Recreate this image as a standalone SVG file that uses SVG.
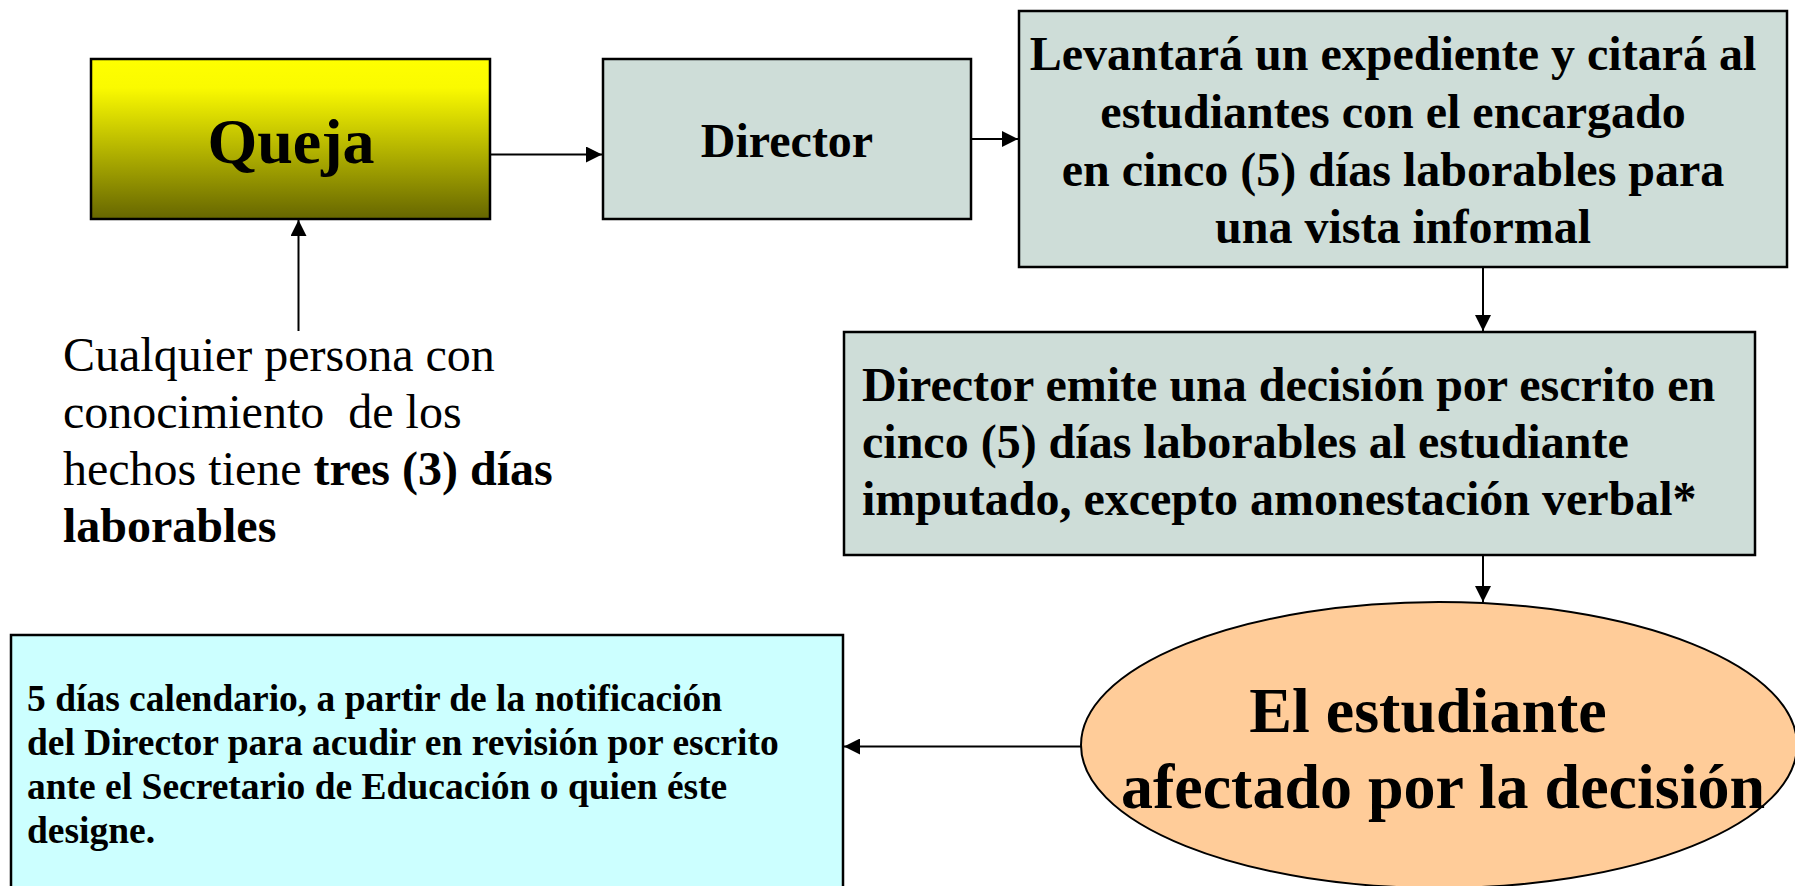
<svg xmlns="http://www.w3.org/2000/svg" width="1795" height="886" viewBox="0 0 1795 886">
<style>
.box{stroke:#000;stroke-width:2.5}
.t{font-family:"Liberation Serif","Times New Roman",serif;fill:#000}
.b{font-weight:bold}
.c{text-anchor:middle}
.con{stroke:#000;stroke-width:2;fill:none}
</style>
<defs>
<linearGradient id="gq" x1="0" y1="0" x2="0" y2="1">
<stop offset="0" stop-color="#FFFF00"/>
<stop offset="0.18" stop-color="#FAFA00"/>
<stop offset="1" stop-color="#666600"/>
</linearGradient>
<marker id="ah" markerUnits="userSpaceOnUse" markerWidth="16" markerHeight="16" viewBox="0 0 16 16" refX="16" refY="8" orient="auto">
<path d="M0,0 L16,8 L0,16 Z" fill="#000"/>
</marker>
</defs>
<rect width="1795" height="886" fill="#fff"/>

<g id="connectors">
<line class="con" x1="490" y1="154.5" x2="602" y2="154.5" marker-end="url(#ah)"/>
<line class="con" x1="971" y1="139" x2="1018" y2="139" marker-end="url(#ah)"/>
<line class="con" x1="298.5" y1="331" x2="298.5" y2="220" marker-end="url(#ah)"/>
<line class="con" x1="1483" y1="267" x2="1483" y2="331" marker-end="url(#ah)"/>
<line class="con" x1="1483" y1="555" x2="1483" y2="602" marker-end="url(#ah)"/>
<line class="con" x1="1082" y1="746.5" x2="844" y2="746.5" marker-end="url(#ah)"/>
</g>

<g id="queja">
<rect class="box" x="91" y="59" width="399" height="160" fill="url(#gq)"/>
<text class="t b c" x="291" y="163" font-size="64">Queja</text>
</g>

<g id="director">
<rect class="box" x="603" y="59" width="368" height="160" fill="#CEDDD8"/>
<text class="t b c" x="787" y="157" font-size="48">Director</text>
</g>

<g id="levantara">
<rect class="box" x="1019" y="11" width="768" height="256" fill="#CEDDD8"/>
<text class="t b c" font-size="48">
<tspan x="1399" y="70">Levantará un expediente y citará al</tspan>
<tspan x="1399" y="128">estudiantes con el encargado</tspan>
<tspan x="1399" y="186">en cinco (5) días laborables para</tspan>
<tspan x="1403" y="243">una vista informal</tspan>
</text>
</g>

<g id="cualquier">
<text class="t" font-size="48">
<tspan x="63" y="371">Cualquier persona con</tspan>
<tspan x="63" y="428" xml:space="preserve">conocimiento  de los</tspan>
<tspan x="63" y="485">hechos tiene <tspan font-weight="bold">tres (3) días</tspan></tspan>
<tspan x="63" y="542" font-weight="bold">laborables</tspan>
</text>
</g>

<g id="decision">
<rect class="box" x="844" y="332" width="911" height="223" fill="#CEDDD8"/>
<text class="t b" font-size="48">
<tspan x="862" y="401">Director emite una decisión por escrito en</tspan>
<tspan x="862" y="458">cinco (5) días laborables al estudiante</tspan>
<tspan x="862" y="515">imputado, excepto amonestación verbal*</tspan>
</text>
</g>

<g id="estudiante">
<ellipse cx="1439" cy="745" rx="358" ry="143" fill="#FFCC99" stroke="#000" stroke-width="2"/>
<text class="t b c" font-size="64">
<tspan x="1436" y="732">El estudiante</tspan>
<tspan x="1443" y="808">afectado por la decisión</tspan>
</text>
</g>

<g id="revision">
<rect class="box" x="11" y="635" width="832" height="300" fill="#CCFFFF"/>
<text class="t b" font-size="37.5">
<tspan x="27" y="711">5 días calendario, a partir de la notificación</tspan>
<tspan x="27" y="755">del Director para acudir en revisión por escrito</tspan>
<tspan x="27" y="799">ante el Secretario de Educación o quien éste</tspan>
<tspan x="27" y="843">designe.</tspan>
</text>
</g>
</svg>
